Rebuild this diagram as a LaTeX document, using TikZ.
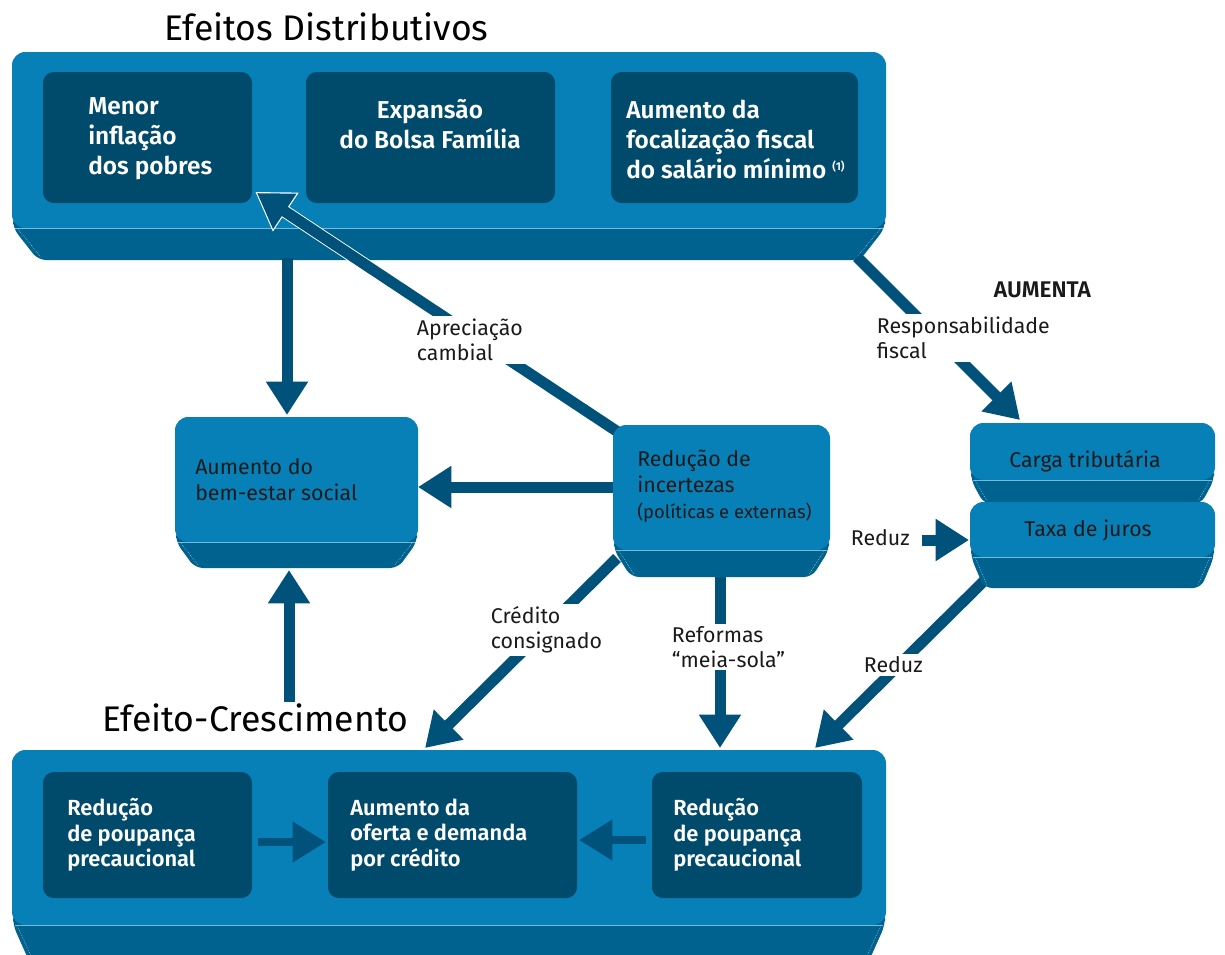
\documentclass[tikz,border=0pt]{standalone}
\usepackage{fontspec}
\setmainfont{Fira Sans}[BoldFont={Fira Sans SemiBold}]
\usetikzlibrary{arrows.meta,calc}
\definecolor{facec}{HTML}{0780B8}
\definecolor{sidec}{HTML}{00628F}
\definecolor{innerc}{HTML}{004A6B}
\definecolor{arrc}{HTML}{00527A}
\definecolor{labc}{HTML}{1A1A1A}
% #1 x left, #2 x right, #3 y top, #4 y face bottom, #5 y side bottom, #6 inset
\newcommand\slab[6]{%
  \fill[sidec, rounded corners=6pt] (#1+1,#4-12) -- (#2-1,#4-12) -- (#2-1,#4) -- (#2-#6,#5) -- (#1+#6,#5) -- (#1+1,#4) -- cycle;
  \fill[facec, rounded corners=10pt] (#1,#3) rectangle (#2,#4);
  \draw[facec!55!white, line width=0.5pt] (#1+3,#4) -- (#2-3,#4);
  \draw[white!75!sidec, densely dotted, line width=0.4pt] (#1+5,#4) -- (#1+#6+3,#5-3);
  \draw[white!75!sidec, densely dotted, line width=0.4pt] (#2-5,#4) -- (#2-#6-3,#5-3);
}
\tikzset{
  arrow/.style={draw=arrc, line width=8.25pt, -{Triangle[length=25pt,width=30pt]}},
  arrowthin/.style={draw=arrc, line width=6.5pt, -{Triangle[length=25pt,width=29pt]}},
  titletext/.style={font=\fontsize{26.7}{30}\selectfont, text=black, anchor=west, inner sep=0pt},
  boxw/.style={font=\bfseries\fontsize{18.3}{22.5}\selectfont, text=white, align=left, inner sep=0pt},
  boxwb/.style={font=\bfseries\fontsize{16.4}{19.2}\selectfont, text=white, align=left, anchor=west, inner sep=0pt},
  boxk/.style={font=\fontsize{16}{19.5}\selectfont, text=labc, align=left, inner sep=0pt},
  lab/.style={font=\fontsize{16}{18.75}\selectfont, text=labc, align=left, anchor=west, fill=white, inner sep=2pt},
}
\begin{document}
\begin{tikzpicture}[x=0.75pt,y=-0.75pt]
\clip (0,0) rectangle (1225,954);
\fill[white] (0,0) rectangle (1225,954);

% ---------- top panel ----------
\slab{12}{886}{52}{228}{260}{26}
\fill[innerc, rounded corners=8pt] (43,72) rectangle (252,203);
\fill[innerc, rounded corners=8pt] (306,72) rectangle (555,203);
\fill[innerc, rounded corners=8pt] (611,72) rectangle (858,203);
\node[boxw, anchor=west] (t1) at (88,139) {Menor\\inflação\\dos pobres};
\node[boxw, align=center] (t2) at (430,124) {Expansão\\do Bolsa Família};
\node[boxw, anchor=west] (t3) at (626,139) {Aumento da\\focalização fiscal\\do salário mínimo \raisebox{6pt}{\fontsize{8.5}{8.5}\selectfont(1)}};
\node[titletext] (ttop) at (164,27) {Efeitos Distributivos};

% ---------- bottom panel ----------
\slab{12}{886}{750}{925}{990}{30}
\fill[innerc, rounded corners=8pt] (43,772) rectangle (252,898);
\fill[innerc, rounded corners=8pt] (328,772) rectangle (577,898);
\fill[innerc, rounded corners=8pt] (652,772) rectangle (862,898);
\node[boxwb] (b1) at (67,835) {Redução\\de poupança\\precaucional};
\node[boxwb] (b2) at (350,835) {Aumento da\\oferta e demanda\\por crédito};
\node[boxwb] (b3) at (673,835) {Redução\\de poupança\\precaucional};
\node[titletext] (tbot) at (102,718) {Efeito-Crescimento};

% ---------- connector end points ----------
\coordinate (a1s) at (287,258);  \coordinate (a1e) at (287,415);
\coordinate (a2s) at (289,702);  \coordinate (a2e) at (289,570);
\coordinate (a3s) at (615,487);  \coordinate (a3e) at (418,487);
\coordinate (a4s) at (624,436);  \coordinate (a4e) at (257,193);
\coordinate (a5s) at (617,558);  \coordinate (a5e) at (425,748);
\coordinate (a6s) at (720,575);  \coordinate (a6e) at (720,748);
\coordinate (a7s) at (987,578);  \coordinate (a7e) at (815,748);
\coordinate (a8s) at (857,257);  \coordinate (a8e) at (1020,420);
\coordinate (a9s) at (922,540);  \coordinate (a9e) at (969,540);
\coordinate (a10s) at (258,842); \coordinate (a10e) at (326,842);
\coordinate (a11s) at (646,840); \coordinate (a11e) at (579,840);

% ---------- connectors ----------
\draw[arrow] (a1s) -- (a1e);
\draw[arrow] (a2s) -- (a2e);
\draw[arrow] (a3s) -- (a3e);
\draw[draw=white, line width=9.6pt, -{Triangle[length=27.5pt,width=33pt]}] (a4s) -- ($(a4e)!-1.6pt!(a4s)$);
\draw[arrow] (a4s) -- (a4e);
\draw[arrow] (a5s) -- (a5e);
\draw[arrow] (a6s) -- (a6e);
\draw[arrow] (a7s) -- (a7e);
\draw[arrow] (a8s) -- (a8e);
\draw[arrow] (a9s) -- (a9e);
\draw[arrowthin] (a10s) -- (a10e);
\draw[arrowthin] (a11s) -- (a11e);

% ---------- middle boxes ----------
\slab{175}{418}{417}{542}{568}{20}
\node[boxk, anchor=west] (bem) at (195,480) {Aumento do\\bem-estar social};
\slab{613}{830}{425}{550}{577}{18}
\node[boxk, anchor=west] (inc) at (637,486) {Redução de\\incertezas\\{\fontsize{13.8}{15}\selectfont(políticas e externas)}};
\slab{970}{1215}{423}{480}{504}{14}
\node[boxk] (carga) at (1085,461) {Carga tributária};
\slab{970}{1215}{502}{557}{588}{14}
\node[boxk] (juros) at (1088,530) {Taxa de juros};

% ---------- labels ----------
\node[lab] (lapr) at (414,340) {Apreciação\\cambial};
\node[lab] (lresp) at (874,338) {Responsabilidade\\fiscal};
\node[lab, font=\bfseries\fontsize{17}{19}\selectfont] (laum) at (991,290) {AUMENTA};
\node[lab] (lcred) at (488,630) {Crédito\\consignado};
\node[lab] (lref) at (669,647) {Reformas\\“meia-sola”};
\node[lab] (lred1) at (861,665) {Reduz};
\node[lab] (lred2) at (848,538) {Reduz};
\end{tikzpicture}
\end{document}
